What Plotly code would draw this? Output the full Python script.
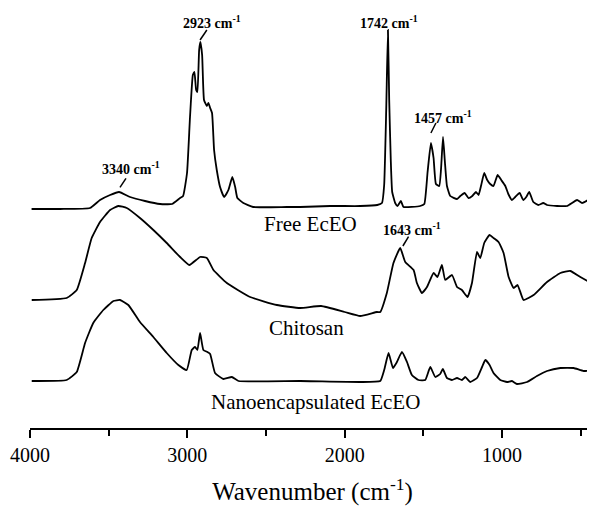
import plotly.graph_objects as go

# ---------------- data ----------------
FREE_WN = [3990, 3809, 3619, 3555, 3491, 3434, 3364, 3269, 3173, 3097,
           3046, 3027, 3002, 2983, 2965, 2955, 2944, 2936, 2925, 2917,
           2906, 2894, 2876, 2866, 2855, 2843, 2830, 2813, 2792, 2766,
           2739, 2714, 2696, 2682, 2644, 2582, 2368, 2283, 2092, 1901,
           1793, 1763, 1749, 1736, 1725, 1717, 1707, 1698, 1679, 1664,
           1643, 1626, 1520, 1494, 1473, 1452, 1435, 1420, 1399, 1388,
           1375, 1363, 1350, 1329, 1286, 1265, 1238, 1213, 1189, 1166,
           1149, 1132, 1113, 1094, 1075, 1054, 1028, 1005, 979, 960,
           937, 916, 888, 865, 846, 827, 801, 769, 738, 714,
           650, 587, 523, 491, 439, 410]
FREE_I = [-1, -1, 0, 8, 13, 16, 11, 7, 4, 4,
          10, 12, 35, 91, 133, 136, 118, 116, 158, 166,
          153, 108, 102, 105, 100, 95, 58, 38, 21, 11,
          18, 31, 21, 10, 5, 1, 1, 1, 2, 2,
          3, 5, 23, 98, 178, 108, 48, 16, 5, 2,
          7, 1, 2, 4, 36, 65, 50, 24, 22, 38,
          71, 46, 22, 12, 9, 12, 15, 10, 12, 16,
          13, 23, 35, 28, 24, 22, 33, 28, 22, 14,
          8, 11, 15, 8, 11, 16, 6, 3, 5, 3,
          2, 2, 8, 5, 9, 8]

CHIT_WN = [3989, 3767, 3703, 3650, 3608, 3555, 3491, 3439, 3385, 3301,
           3216, 3131, 3046, 2987, 2919, 2876, 2834, 2749, 2601, 2431,
           2283, 2150, 2000, 1901, 1795, 1774, 1732, 1690, 1647, 1615,
           1562, 1541, 1509, 1477, 1435, 1410, 1382, 1361, 1318, 1286,
           1255, 1219, 1191, 1159, 1138, 1113, 1079, 1054, 1022, 990,
           958, 926, 901, 863, 799, 714, 629, 566, 502, 410]
CHIT_I = [0, 2, 10, 37, 62, 78, 90, 94, 92, 82,
          70, 57, 43, 35, 43, 42, 30, 17, 3, -5,
          -8, -6, -12, -16, -12, -12, 7, 37, 52, 38,
          30, 17, 7, 13, 27, 23, 35, 20, 25, 13,
          10, 3, 17, 48, 42, 57, 65, 62, 58, 47,
          23, 12, 15, 0, 5, 18, 27, 29, 23, 15]

NANO_WN = [3989, 3767, 3703, 3650, 3598, 3534, 3470, 3428, 3375, 3301,
           3216, 3131, 3057, 3004, 2972, 2951, 2936, 2919, 2898, 2873,
           2855, 2824, 2771, 2717, 2675, 2283, 1901, 1774, 1749, 1721,
           1693, 1668, 1636, 1604, 1573, 1531, 1488, 1456, 1424, 1393,
           1376, 1350, 1318, 1286, 1255, 1234, 1202, 1159, 1127, 1106,
           1079, 1054, 1011, 968, 937, 905, 841, 778, 714, 629,
           545, 481, 410]
NANO_I = [0, 1, 9, 38, 58, 71, 80, 81, 76, 59,
          44, 28, 16, 11, 31, 34, 31, 48, 31, 29,
          27, 8, 2, 4, 0, 0, -1, 0, 11, 28,
          13, 19, 29, 19, 6, 1, 1, 14, 4, 7,
          12, 3, 1, 3, 1, 4, -1, 3, 14, 21,
          16, 8, 1, -1, 0, -3, -1, 5, 10, 13,
          13, 10, 11]

SERIES_NAMES = ["Free EcEO", "Chitosan", "Nanoencapsulated EcEO"]
OFFSETS = [220, 128, 47]   # vertical stacking offsets (a.u.)

PEAK_LABELS = ["3340", "2923", "1742", "1457", "1643"]
X_TICKS = [4000, 3000, 2000, 1000]

# ---------------- figure ----------------
SERIF = "Liberation Serif, Times New Roman, serif"
fig = go.Figure()

for wn, inten, off, name in zip([FREE_WN, CHIT_WN, NANO_WN],
                                [FREE_I, CHIT_I, NANO_I],
                                OFFSETS, SERIES_NAMES):
    fig.add_trace(go.Scatter(
        x=wn, y=[v + off for v in inten], mode="lines", name=name,
        line=dict(color="black", width=1.8, shape="spline", smoothing=0.4),
        showlegend=False, hoverinfo="skip", cliponaxis=True))

# curve labels
curve_label_pos = [(2219, 204), (2242, 100), (2188, 26)]
for name, (x, y) in zip(SERIES_NAMES, curve_label_pos):
    fig.add_annotation(x=x, y=y, text=name, showarrow=False,
                       font=dict(family=SERIF, size=21, color="black"),
                       xanchor="center", yanchor="middle")

# peak labels with leader lines
peak_pos = [(3358, 260), (2843, 406), (1717, 406), (1374, 311), (1571, 199)]
leaders = [((3390, 249.7), (3428, 240.7)),
           ((2876, 398), (2919, 388)),
           None,
           ((1420, 305), (1452, 295)),
           ((1594, 191.3), (1630, 182))]
for lab, (x, y), ld in zip(PEAK_LABELS, peak_pos, leaders):
    fig.add_annotation(x=x, y=y, text=f"<b>{lab} cm<sup>-1</sup></b>",
                       showarrow=False,
                       font=dict(family=SERIF, size=14, color="black"),
                       xanchor="center", yanchor="middle")
    if ld is not None:
        (x0, y0), (x1, y1) = ld
        fig.add_shape(type="line", xref="x", yref="y", x0=x0, y0=y0,
                      x1=x1, y1=y1, line=dict(color="black", width=1.5))

fig.update_xaxes(
    range=[4000, 409], tickvals=X_TICKS, ticktext=[str(t) for t in X_TICKS],
    showline=True, linecolor="black", linewidth=2,
    ticks="outside", ticklen=8, tickwidth=2, tickcolor="black",
    minor=dict(tickvals=[3500, 2500, 1500, 500], ticks="outside",
               ticklen=6, tickwidth=2, tickcolor="black"),
    showgrid=False, zeroline=False, automargin=False,
    tickfont=dict(family=SERIF, size=20, color="black"),
    title=dict(text="Wavenumber (cm<sup>-1</sup>)",
               font=dict(family=SERIF, size=25, color="black"),
               standoff=21),
)
fig.update_yaxes(visible=False, range=[0, 420], fixedrange=True,
                 automargin=False)

# the page body adds an 8 px margin, so the figure is sized to fit the window
fig.update_layout(
    width=587, height=498,
    margin=dict(l=22, r=0, t=0, b=78, autoexpand=False),
    paper_bgcolor="white", plot_bgcolor="white",
    showlegend=False,
)

fig.write_html("out.html")
